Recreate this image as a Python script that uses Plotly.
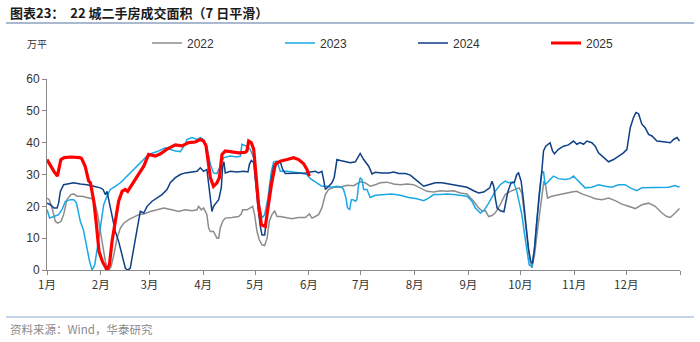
import plotly.graph_objects as go

# Day of year (0 = 1 Jan) and 7-day smoothed transaction area (10k m²), 22 cities
days_2022 = [0, 1.3, 2.9, 4.8, 6.2, 8.1, 9.6, 11.5, 13.8, 15.4, 17.3, 20.2, 23, 26, 27.9, 29.2, 30.8, 32.3, 33.7,
             35.6, 36.9, 38.5, 40.4, 42.3, 44.2, 47.1, 50, 52.9, 55.8, 59.6, 63.5, 67.3, 72, 75.9, 79.7, 83.6, 86.5,
             87.4, 89, 90.3, 91.3, 92.2, 93.2, 94.2, 96, 97, 98, 99, 99.9, 101.3, 102.8, 106.7, 110.5, 112, 112.8,
             115.3, 117.2, 118.6, 119.7, 121.1, 122.4, 124, 125.5, 126.9, 128.2, 129.7, 131.3, 132.6, 134.5, 137.4,
             141.3, 145.1, 149, 151.3, 152.8, 154.7, 156.6, 158.5, 160.5, 162.4, 165.3, 169.1, 173, 176.8, 180.6,
             183.5, 186.4, 189.3, 192.2, 196, 199.9, 203.7, 207.6, 211.4, 215.3, 219.1, 223, 226.8, 230.6, 234.5,
             238.3, 242.2, 246, 248.9, 250.8, 252.8, 254.7, 256.6, 258.4, 261.3, 264.2, 267.1, 269.9, 272.2, 273.8,
             275.3, 276.7, 278.2, 279.6, 281.1, 283, 285, 286.5, 287.6, 288.6, 291.1, 294.9, 298.8, 302.6, 305.5,
             308.4, 312.2, 316.1, 320, 323.8, 327.6, 331.5, 335.3, 339.2, 343, 346.9, 350.7, 354.6, 357.4, 359.4,
             362.2, 364.7]
vals_2022 = [22.6, 22.1, 19.5, 15.3, 14.7, 15.3, 17.4, 22.1, 23.7, 23.9, 23.2, 23.2, 22.8, 22.4, 20.5, 17.4, 12.1,
             6.8, 2.6, 0, 1, 4.7, 10, 13.2, 14.7, 15.8, 16.5, 17.4, 17.6, 18.4, 18.9, 19.5, 18.9, 18.4, 18.9, 18.6,
             18.9, 20, 18.9, 19.5, 18.4, 17.4, 13.2, 12.1, 12.1, 11, 10, 10, 13.2, 15.3, 16.3, 16.5, 16.8, 17.6,
             18.9, 18.9, 19.5, 20, 17.4, 12.1, 9.5, 7.9, 7.7, 10, 15.3, 17.4, 18.6, 16.8, 16.8, 16.5, 16.1, 16.5,
             16.5, 17.6, 16.3, 16.8, 17.4, 19.5, 23.7, 25.3, 26, 26, 26.6, 26.5, 27.7, 27.4, 26.3, 26.8, 27.4, 27.6,
             27, 26.8, 27, 26.8, 25.8, 24.7, 24.5, 24.9, 24.7, 24.9, 24.2, 23.9, 21.6, 19.5, 18.6, 18.6, 16.8, 17.1,
             17.9, 20.5, 23.7, 24.7, 25.3, 25.8, 24.2, 17.4, 10, 3.7, 0.7, 4.7, 13.2, 21.6, 27.9, 26.3, 22.6, 23.2,
             23.7, 24.2, 24.5, 24.7, 23.9, 23.2, 22.4, 22.1, 22.6, 21.8, 20.7, 20, 19.3, 20.5, 21, 20, 17.9, 16.8,
             16.5, 17.9, 19.3]

days_2023 = [0, 1.5, 4, 6.7, 8.7, 10.6, 13.5, 15.4, 17, 19.2, 21, 23, 24.6, 26, 27.5, 29, 30.8, 32.7, 34.6, 36.5,
             39.4, 42.3, 45.2, 48, 52, 55.8, 58.6, 63.5, 68.2, 74, 76.9, 79.7, 80.7, 83.6, 86.5, 88.4, 90.3, 92.2,
             94.2, 96, 98, 99.9, 101.9, 105.7, 109.5, 111.5, 112.4, 114.7, 117.2, 119.2, 120.5, 122, 124, 125.5,
             127.4, 129.4, 130.7, 132.6, 134.5, 138.4, 142.2, 146.1, 149.9, 151.9, 155.6, 158.5, 161.4, 164.3,
             167.2, 170, 171, 172.4, 173.3, 174.5, 175.5, 176.4, 177.8, 178.7, 179.7, 180.6, 181.6, 182.6, 184.5,
             186.4, 189.3, 194.1, 198.9, 203.7, 208.5, 213.3, 217.2, 220, 223, 226.8, 230.6, 234.5, 238.3, 242.2,
             245, 247, 249.9, 251.8, 254.7, 258.4, 261.3, 264.2, 266.1, 269, 270.9, 272.2, 273.8, 275.7, 277.1, 278,
             279.6, 281.1, 282.4, 284, 285.3, 286.3, 287.2, 289.2, 292, 294.9, 298.8, 301.7, 303.6, 305.5, 307.4,
             310.3, 314.2, 318, 321.9, 325.7, 329.6, 333.4, 336.3, 340.1, 343, 346.9, 350.7, 354.6, 358.4, 362.2,
             364.7]
vals_2023 = [19, 16.3, 16.8, 17.4, 19, 21.6, 22.1, 22.1, 21, 15.3, 12.6, 6.8, 2.6, 0, 1.6, 6.8, 14.2, 20.5, 23.2,
             25.3, 26.3, 27.4, 29, 30.5, 32.6, 34.7, 36.3, 37.2, 38.4, 37.4, 37.2, 39.5, 41, 41.6, 41, 41.6, 41, 38.4,
             33.2, 30.5, 30.3, 32.6, 35.3, 35.8, 35.5, 35.8, 39.5, 39, 37.9, 35.3, 30, 21.6, 16.3, 17.4, 22.6, 31,
             34, 34.2, 31, 31, 30.8, 30.5, 30, 28.7, 27.4, 26.3, 26.3, 26, 26.3, 26, 25.3, 22.6, 19.5, 19, 22.1,
             22.1, 21.6, 22.1, 26.8, 29, 28.4, 25.3, 25.3, 22.8, 23.5, 23.7, 23.9, 23.5, 22.8, 22.4, 21.8, 22.6,
             23.7, 23.7, 23.9, 23.7, 23.5, 23.2, 21.6, 19.5, 17.9, 18.6, 21, 24.7, 26.8, 27.9, 27.4, 27.7, 24.7,
             21.6, 17.4, 10, 4.2, 1.6, 1, 6.8, 15.3, 23.7, 30.5, 31, 26.8, 27.9, 29.5, 28.7, 28.4, 28.7, 29.5, 28.4,
             27.4, 25.8, 26, 26.8, 26.3, 26, 26.8, 26.8, 25.8, 24.9, 25.8, 25.8, 26, 25.8, 26, 26.5, 26]

days_2024 = [0, 2, 4, 5.8, 6.7, 7.7, 9.6, 12.5, 15.4, 19.2, 23, 27, 30.8, 32.3, 33.7, 34.6, 35.6, 37.5, 39.4, 41.3,
             43.3, 45.2, 46.5, 48, 50, 52, 53.8, 55.8, 57.7, 60.6, 63.5, 66.3, 69.2, 71.1, 74, 76.9, 79.7, 83.6,
             86.5, 88.4, 90.3, 92.2, 93.2, 94.2, 95.1, 96, 97.4, 99, 100.5, 101.3, 102, 102.8, 105.7, 109.5, 113.4,
             115.9, 116.7, 117.8, 119.2, 120.1, 121.7, 123, 124, 125.5, 126.9, 128.8, 130.7, 132.6, 134.5, 135.9,
             137.4, 141.3, 145.1, 149, 151.9, 154.7, 156.6, 158.5, 159.5, 160.5, 162.4, 164.3, 165.6, 167.2, 169.1,
             172, 174.9, 177.8, 179.1, 180.6, 182.6, 185.5, 187.4, 189.3, 193.1, 197, 199.9, 202.8, 206.6, 209.5,
             213.3, 217.2, 220, 223.9, 227.8, 231.6, 234.5, 238.3, 242.2, 246, 248.9, 251.8, 253.7, 255.3, 256.6,
             257.6, 258.5, 259.5, 261.4, 263.5, 265.7, 267.5, 269.5, 270.9, 271.9, 273.4, 274.8, 276.3, 277.6, 279,
             279.9, 281.1, 282.4, 283.8, 285.3, 286.3, 287.6, 290.1, 291.5, 292.6, 294.9, 297.8, 300.7, 303.6,
             305.5, 307.4, 309.4, 311.3, 314.2, 316.1, 318, 320.9, 323.8, 326.7, 329.6, 332.4, 334.4, 336.3, 338.2,
             339.6, 341.1, 343, 344.9, 346.9, 348.8, 351.7, 355.5, 359.4, 361.3, 363.3, 364.7]
vals_2024 = [21, 20.5, 19.5, 19.5, 21, 24.7, 26.8, 27, 27.4, 27, 26.8, 26.3, 25.8, 25.3, 23.7, 24.7, 22.1, 16.3,
             12.1, 9, 4.2, 0.5, 0, 0.5, 6.8, 13.2, 18.4, 17.9, 20, 21.6, 22.6, 23.7, 25.3, 27.4, 29, 30, 30.5, 30.8,
             31, 32.1, 31, 31.6, 26.8, 21.6, 18.4, 20, 21, 22.1, 25.8, 32.6, 34, 30.5, 31, 30.8, 31, 30.8, 33.2,
             34.4, 33.7, 27.9, 19.5, 13.7, 11, 11, 17.4, 26.8, 32.6, 34, 34, 31.6, 30.3, 30.3, 30.3, 30.5, 30.8,
             31, 30.5, 31, 28.4, 25.3, 26.3, 27.4, 29, 34.7, 34.4, 34, 33.7, 34, 35.3, 36.6, 34.7, 32.6, 30.2, 30.7,
             30.5, 30.5, 30.8, 30.3, 30.3, 29.8, 28.1, 26.3, 26.8, 27.4, 27.4, 27, 26.8, 26.3, 26, 24.9, 24.2, 24.5,
             25.3, 25.8, 27.9, 26.3, 22.6, 19.5, 18.6, 18.3, 24.5, 27.3, 27.5, 30, 30.5, 27.9, 21.6, 14.2, 6.8,
             2.6, 2.1, 6.8, 15.3, 23.7, 31, 37.4, 38.9, 40, 37.4, 36.5, 37.9, 38.9, 39.3, 40.5, 39.5, 40, 39.5,
             40.5, 40, 38.9, 36.8, 35.3, 34, 34.7, 35.8, 36.8, 37.9, 44.7, 47.9, 49.5, 49.1, 45.8, 44.7, 42.6,
             42.1, 40.5, 40.3, 40, 41, 41.6, 40.5]

days_2025 = [0, 2, 4, 6, 7, 8, 10, 13.5, 19, 20, 22, 24, 25, 27, 28.5, 30, 32, 33.7, 34.6, 36, 37.5, 39.4, 41.3,
             43.3, 45, 46.5, 49, 52, 55.8, 58.6, 62.5, 65.4, 69, 74, 77.8, 81.7, 85.5, 88.4, 90.3, 91.7, 92.8, 94.2,
             96, 98, 99.4, 100.9, 102.8, 106.7, 110.5, 114.4, 115.3, 116.3, 117.8, 119.2, 120.5, 122, 123.6, 125.9,
             127.4, 129.4, 131.7, 134.5, 138.4, 142.2, 145.1, 148, 149.9, 151.3]
vals_2025 = [34.7, 32.6, 31, 29.5, 32, 34.7, 35.3, 35.5, 35.3, 35, 32.6, 28, 27.4, 21.6, 14.2, 5.8, 2.6, 0.5, 0,
             1.6, 9, 15.3, 21.6, 24.7, 25.3, 24.7, 26.8, 29, 32.6, 36.3, 35.8, 36.5, 37.9, 39.3, 39, 40, 40.2, 41,
             40.5, 39, 34.2, 29, 26.3, 27.4, 29, 36.3, 37.4, 37, 36.8, 37, 37.4, 40.5, 40, 37.9, 30, 20.5, 14.2,
             13.7, 19.5, 26.8, 33.2, 34.2, 34.7, 35.3, 34.7, 33.4, 31.6, 29.5]

month_ticks = [0, 31, 59, 90, 120, 151, 181, 212, 243, 273, 304, 334, 365]
month_labels = ["1月", "2月", "3月", "4月", "5月", "6月", "7月", "8月", "9月", "10月", "11月", "12月", ""]

series = [
    ("2022", days_2022, vals_2022, "#8c8c8c", 1.5),
    ("2023", days_2023, vals_2023, "#1aa7e6", 1.5),
    ("2024", days_2024, vals_2024, "#0f3f86", 1.5),
    ("2025", days_2025, vals_2025, "#ff0000", 3.2),
]

W, H = 700, 342
ML, MR, MT, MB = 47, 20, 79, 72
PW, PH = W - ML - MR, H - MT - MB


def px_x(x):
    return (x - ML) / PW


def px_y(y):
    return (H - MB - y) / PH


fig = go.Figure()
for name, d, v, color, width in series:
    fig.add_trace(go.Scatter(x=d, y=v, mode="lines", name=name,
                             line=dict(color=color, width=width)))

base_font = "Liberation Sans, Arial, Noto Sans CJK SC, sans-serif"
cjk_font = "Noto Sans CJK SC, Liberation Sans, sans-serif"

fig.update_layout(
    width=W, height=H,
    margin=dict(l=ML, r=MR, t=MT, b=MB, pad=0),
    paper_bgcolor="white", plot_bgcolor="white",
    font=dict(family=base_font, size=12, color="#333333"),
    showlegend=True,
    legend=dict(orientation="h", x=px_x(147), xanchor="left", y=px_y(43), yanchor="middle",
                entrywidth=88, entrywidthmode="pixels", bgcolor="rgba(0,0,0,0)",
                font=dict(family=base_font, size=12, color="#333333"),
                itemclick=False),
    xaxis=dict(range=[0, 365], tickmode="array", tickvals=month_ticks, ticktext=month_labels,
               showgrid=False, zeroline=False, showline=True, linecolor="#8a8a8a", linewidth=1,
               ticks="outside", ticklen=4, tickcolor="#8a8a8a",
               tickfont=dict(family=cjk_font, size=11.5, color="#333333")),
    yaxis=dict(range=[0, 60], tickvals=[0, 10, 20, 30, 40, 50, 60], showgrid=False, zeroline=False,
               showline=True, linecolor="#8a8a8a", linewidth=1, ticks="outside", ticklen=4,
               tickcolor="#8a8a8a", tickfont=dict(family=base_font, size=12, color="#333333")),
)

fig.add_annotation(text="<b>图表23：  22 城二手房成交面积（7 日平滑）</b>", xref="paper", yref="paper",
                   x=px_x(8), y=px_y(12), xanchor="left", yanchor="middle", showarrow=False,
                   font=dict(family=cjk_font, size=13, color="#1a1a1a"))
fig.add_annotation(text="万平", xref="paper", yref="paper", x=px_x(25), y=px_y(43),
                   xanchor="left", yanchor="middle", showarrow=False,
                   font=dict(family=cjk_font, size=10, color="#333333"))
fig.add_annotation(text="资料来源：Wind，华泰研究", xref="paper", yref="paper", x=px_x(8), y=px_y(329),
                   xanchor="left", yanchor="middle", showarrow=False,
                   font=dict(family=cjk_font, size=11.5, color="#8a8a8a"))

fig.add_shape(type="line", xref="paper", yref="paper", x0=px_x(6), x1=px_x(694), y0=px_y(23), y1=px_y(23),
              line=dict(color="#a9b9d0", width=2))
fig.add_shape(type="line", xref="paper", yref="paper", x0=px_x(6), x1=px_x(694), y0=px_y(317), y1=px_y(317),
              line=dict(color="#8fa9d3", width=1))

fig.write_html("out.html")
